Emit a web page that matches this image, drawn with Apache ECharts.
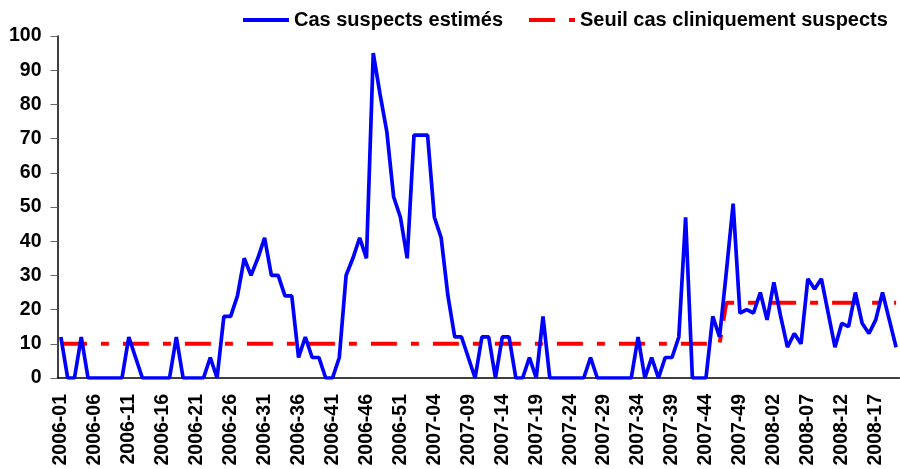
<!DOCTYPE html>
<html>
<head>
<meta charset="utf-8">
<script src="https://cdn.jsdelivr.net/npm/echarts@6/dist/echarts.min.js"></script>
<style>
html,body{margin:0;padding:0;background:#fff;}
#chart{width:900px;height:469px;}
</style>
</head>
<body>
<div id="chart"></div>
<script>
// semaines : [annee, nombre de semaines affichees]
var yearWeeks = [[2006, 52], [2007, 52], [2008, 20]];

// cas suspects estimes (une valeur par semaine)
var casSuspects = [
	12, 0, 0, 12, 0, 0, 0, 0, 0, 0,
	12, 6, 0, 0, 0, 0, 0, 12, 0, 0,
	0, 0, 6, 0, 18, 18, 24, 35, 30, 35,
	41, 30, 30, 24, 24, 6, 12, 6, 6, 0,
	0, 6, 30, 35, 41, 35, 95, 83, 72, 53,
	47, 35, 71, 71, 71, 47, 41, 24, 12, 12,
	6, 0, 12, 12, 0, 12, 12, 0, 0, 6,
	0, 18, 0, 0, 0, 0, 0, 0, 6, 0,
	0, 0, 0, 0, 0, 12, 0, 6, 0, 6,
	6, 12, 47, 0, 0, 0, 18, 12, 31, 51,
	19, 20, 19, 25, 17, 28, 18, 9, 13, 10,
	29, 26, 29, 19, 9, 16, 15, 25, 16, 13,
	17, 25, 17, 9
];

// seuil cas cliniquement suspects
var seuil = [
	10, 10, 10, 10, 10, 10, 10, 10, 10, 10,
	10, 10, 10, 10, 10, 10, 10, 10, 10, 10,
	10, 10, 10, 10, 10, 10, 10, 10, 10, 10,
	10, 10, 10, 10, 10, 10, 10, 10, 10, 10,
	10, 10, 10, 10, 10, 10, 10, 10, 10, 10,
	10, 10, 10, 10, 10, 10, 10, 10, 10, 10,
	10, 10, 10, 10, 10, 10, 10, 10, 10, 10,
	10, 10, 10, 10, 10, 10, 10, 10, 10, 10,
	10, 10, 10, 10, 10, 10, 10, 10, 10, 10,
	10, 10, 10, 10, 10, 10, 10, 10, 22, 22,
	22, 22, 22, 22, 22, 22, 22, 22, 22, 22,
	22, 22, 22, 22, 22, 22, 22, 22, 22, 22,
	22, 22, 22, 22
];

var seriesNames = ['Cas suspects estimés', 'Seuil cas cliniquement suspects'];

// libelles des semaines (2006-01 ...)
var weeks = [];
for (var y = 0; y < yearWeeks.length; ++y) {
	for (var w = 1; w <= yearWeeks[y][1]; ++w) {
		weeks.push(yearWeeks[y][0] + '-' + (w < 10 ? '0' + w : w));
	}
}

var font = '"Liberation Sans", Arial, sans-serif';
var chart = echarts.init(document.getElementById('chart'));

var option = {
	animation: false,
	backgroundColor: '#fff',
	textStyle: {fontFamily: font},
	legend: {
		left: 236,
		top: 5,
		itemWidth: 46,
		itemHeight: 14,
		itemGap: 24,
		itemStyle: {color: 'rgba(0,0,0,0)', borderWidth: 0, opacity: 0},
		lineStyle: {width: 4},
		textStyle: {fontSize: 20, fontWeight: 'bold', color: '#000', fontFamily: font},
		data: seriesNames
	},
	grid: {left: 57.5, right: 0.5, top: 36, bottom: 91, outerBoundsMode: 'none'},
	xAxis: {
		type: 'category',
		data: weeks,
		boundaryGap: true,
		axisLine: {lineStyle: {color: '#000', width: 1.5}},
		axisTick: {interval: 0, length: 6, lineStyle: {color: '#555'}},
		axisLabel: {
			interval: 4,
			rotate: 90,
			margin: 16,
			fontSize: 19.5,
			fontWeight: 'bold',
			color: '#000',
			fontFamily: font
		},
		splitLine: {show: false}
	},
	yAxis: {
		type: 'value',
		min: 0,
		max: 100,
		interval: 10,
		axisLine: {show: true, lineStyle: {color: '#000', width: 1.5}},
		axisTick: {show: true, length: 7, lineStyle: {color: '#666'}},
		axisLabel: {
			margin: 16,
			fontSize: 19.5,
			fontWeight: 'bold',
			color: '#000',
			fontFamily: font
		},
		splitLine: {show: false}
	},
	series: [
		{
			name: seriesNames[0],
			type: 'line',
			data: casSuspects,
			symbol: 'none',
			lineStyle: {color: '#0000ff', width: 3.7},
			itemStyle: {color: '#0000ff'},
			z: 3
		},
		{
			name: seriesNames[1],
			type: 'line',
			data: seuil,
			symbol: 'none',
			lineStyle: {color: '#ff0000', width: 4, type: [26, 14, 8, 14]},
			itemStyle: {color: '#ff0000'},
			z: 2
		}
	]
};
chart.setOption(option);
</script>
</body>
</html>
